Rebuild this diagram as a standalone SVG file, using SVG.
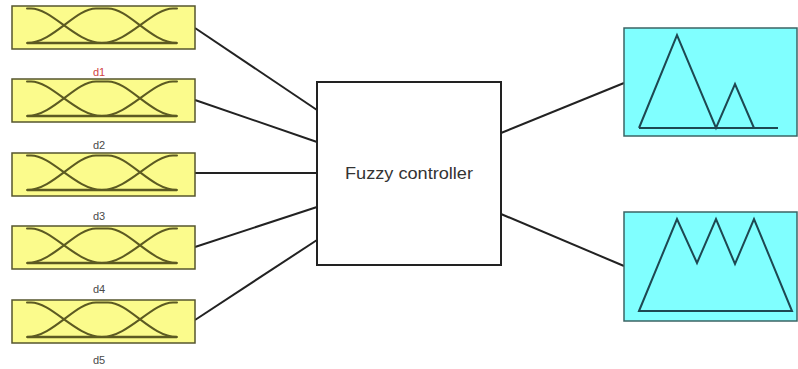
<svg xmlns="http://www.w3.org/2000/svg" xmlns:xlink="http://www.w3.org/1999/xlink" width="798" height="369" viewBox="0 0 798 369">
  <style>
    .inbox { fill: #fbfb8c; stroke: #56562e; stroke-width: 1.5; }
    .mf { fill: none; stroke: #5c5a22; stroke-width: 2; stroke-linecap: round; }
    .mfbase { fill: none; stroke: #5c5a22; stroke-width: 2.5; }
    .lbl { font-family: "Liberation Sans", Arial, sans-serif; font-size: 11px; fill: #4a4a4a; text-anchor: middle; }
    .lbl-active { fill: #d04444; }
    .core { fill: #ffffff; stroke: #222; stroke-width: 2; }
    .core-text { font-family: "Liberation Sans", Arial, sans-serif; font-size: 16px; fill: #333; text-anchor: middle; }
    .outbox { fill: #80ffff; stroke: #3c6464; stroke-width: 1.5; }
    .outshape { fill: none; stroke: #1e4852; stroke-width: 2; stroke-linejoin: miter; }
    .wire { fill: none; stroke: #222; stroke-width: 2; }
  </style>
  <defs>
    <!-- three overlapping membership functions on a shared base -->
    <g id="mfset">
      <rect class="inbox" x="12" y="0" width="183" height="43"/>
      <path class="mfbase" d="M27,37 L177,37"/>
      <path class="mf" d="M27,2.5 L31,2.5 C52,2.5 76,37 102,37"/>
      <path class="mf" d="M27,37 C53,37 75,2.5 96,2.5 L108,2.5 C129,2.5 151,37 177,37"/>
      <path class="mf" d="M102,37 C128,37 152,2.5 173,2.5 L177,2.5"/>
    </g>
  </defs>

  <!-- connectors -->
  <g id="connectors">
    <path class="wire" d="M195,28 L317,110"/>
    <path class="wire" d="M195,100 L317,142"/>
    <path class="wire" d="M195,173 L317,173"/>
    <path class="wire" d="M195,247 L317,207"/>
    <path class="wire" d="M195,320 L317,240"/>
    <path class="wire" d="M501,133 L624,83"/>
    <path class="wire" d="M501,214 L624,266"/>
  </g>

  <!-- inputs -->
  <g id="d1">
    <use xlink:href="#mfset" href="#mfset" transform="translate(0,6)"/>
    <text class="lbl lbl-active" x="99" y="76">d1</text>
  </g>
  <g id="d2">
    <use xlink:href="#mfset" href="#mfset" transform="translate(0,79)"/>
    <text class="lbl" x="99" y="149">d2</text>
  </g>
  <g id="d3">
    <use xlink:href="#mfset" href="#mfset" transform="translate(0,153)"/>
    <text class="lbl" x="99" y="220">d3</text>
  </g>
  <g id="d4">
    <use xlink:href="#mfset" href="#mfset" transform="translate(0,226)"/>
    <text class="lbl" x="99" y="293">d4</text>
  </g>
  <g id="d5">
    <use xlink:href="#mfset" href="#mfset" transform="translate(0,300)"/>
    <text class="lbl" x="99" y="364">d5</text>
  </g>

  <!-- controller -->
  <g id="controller">
    <rect class="core" x="317" y="82" width="184" height="183"/>
    <text class="core-text" x="409" y="179" textLength="128" lengthAdjust="spacingAndGlyphs">Fuzzy controller</text>
  </g>

  <!-- outputs -->
  <g id="out1">
    <rect class="outbox" x="624" y="28" width="173" height="108"/>
    <path class="outshape" d="M639,128 L677,35 L716,128 L735,84 L754,128"/>
    <path class="outshape" d="M639,128 L778,128"/>
  </g>
  <g id="out2">
    <rect class="outbox" x="624" y="212" width="173" height="109"/>
    <path class="outshape" d="M639,311 L677,219 L697,263 L716,219 L735,264 L754,219 L792,311 Z"/>
  </g>
</svg>
